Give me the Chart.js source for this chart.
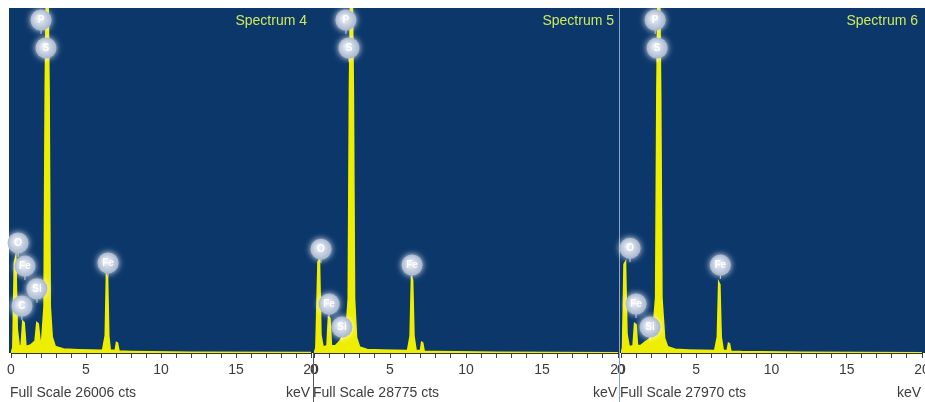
<!DOCTYPE html>
<html>
<head>
<meta charset="utf-8">
<script src="https://cdn.jsdelivr.net/npm/chart.js@4/dist/chart.umd.min.js"></script>
<style>
  html, body { margin: 0; padding: 0; background: #fff; overflow: hidden; }
  #wrap { position: relative; width: 925px; height: 402px; overflow: hidden; }
  canvas { position: absolute; left: 0; top: 0; }
</style>
</head>
<body>
<div id="wrap">
  <canvas id="spec4" width="960" height="402"></canvas>
  <canvas id="spec5" width="960" height="402"></canvas>
  <canvas id="spec6" width="960" height="402"></canvas>
</div>
<script>
// —— spectrum data (keV / counts) ——
const spectrumNames = ['Spectrum 4', 'Spectrum 5', 'Spectrum 6'];
const fullScale     = [26006, 28775, 27970];
const tickValues    = [0, 5, 10, 15, 20];

const keV4 = [0, 0.12, 0.22, 0.32, 0.42, 0.55, 0.68, 0.78, 0.88, 1.0, 1.3, 1.6, 1.72, 1.82, 1.94, 2.05, 2.2, 2.28, 2.34, 2.48, 2.54, 2.62, 2.75, 2.95, 3.5, 4.5, 6.1, 6.28, 6.36, 6.44, 6.52, 6.62, 6.95, 7.03, 7.1, 7.2, 8, 12, 20];
const cts4 = [0, 400, 6800, 7300, 1800, 500, 600, 2400, 2300, 500, 600, 900, 2300, 2200, 900, 1000, 3500, 20000, 26006, 26006, 20000, 3500, 1200, 500, 300, 250, 200, 1300, 5900, 5700, 1300, 200, 200, 800, 750, 150, 120, 60, 30];

const keV5 = [0, 0.12, 0.26, 0.36, 0.46, 0.6, 0.85, 0.95, 1.05, 1.15, 1.4, 1.7, 1.9, 2.1, 2.25, 2.33, 2.39, 2.53, 2.59, 2.67, 2.8, 3.0, 3.5, 4.5, 6.15, 6.32, 6.41, 6.49, 6.58, 6.72, 7.0, 7.08, 7.15, 7.25, 8, 12, 20];
const cts5 = [0, 400, 7600, 7800, 1500, 500, 600, 3000, 2900, 600, 600, 1000, 1500, 1800, 4500, 22000, 28775, 28775, 22000, 4500, 1300, 500, 300, 250, 200, 1400, 6300, 6100, 1400, 200, 200, 900, 850, 150, 120, 60, 30];

const keV6 = [0, 0.1, 0.2, 0.3, 0.4, 0.55, 0.8, 0.9, 1.0, 1.1, 1.3, 1.6, 1.85, 2.1, 2.3, 2.38, 2.44, 2.58, 2.64, 2.72, 2.9, 3.1, 3.6, 4.5, 6.22, 6.4, 6.49, 6.57, 6.66, 6.8, 7.05, 7.14, 7.21, 7.3, 8, 12, 20];
const cts6 = [0, 400, 7200, 7400, 1500, 500, 600, 2400, 2300, 600, 600, 900, 1100, 1500, 4500, 21000, 27970, 27970, 21000, 4500, 1200, 500, 300, 250, 200, 1300, 5750, 5550, 1300, 200, 200, 800, 750, 150, 120, 60, 30];

// element markers (name, keV, counts)
const markNames4 = ['P', 'S', 'O', 'Fe', 'Si', 'C', 'Fe'];
const markKeV4   = [2.0, 2.33, 0.47, 0.93, 1.73, 0.73, 6.47];
const markCts4   = [25100, 23000, 8300, 6550, 4840, 3540, 6790];

const markNames5 = ['P', 'S', 'O', 'Fe', 'Si', 'Fe'];
const markKeV5   = [2.1, 2.3, 0.46, 0.99, 1.84, 6.45];
const markCts5   = [27770, 25440, 8660, 4090, 2160, 7340];

const markNames6 = ['P', 'S', 'O', 'Fe', 'Si', 'Fe'];
const markKeV6   = [2.27, 2.4, 0.6, 1.0, 1.93, 6.6];
const markCts6   = [27000, 24730, 8500, 3970, 2100, 7130];

const panels = [
  { id: 'spec4', keV: keV4, cts: cts4, names: markNames4, mKeV: markKeV4, mCts: markCts4, left: 11,  right: 311 },
  { id: 'spec5', keV: keV5, cts: cts5, names: markNames5, mKeV: markKeV5, mCts: markCts5, left: 314, right: 618 },
  { id: 'spec6', keV: keV6, cts: cts6, names: markNames6, mKeV: markKeV6, mCts: markCts6, left: 621, right: 922 }
];

const FONT = "'Liberation Sans', Arial, sans-serif";
const CANVAS_W = 960;

// —— panel decoration: blue plot area, markers, captions ——
const edsPlugin = {
  id: 'eds',
  beforeDraw(chart, args, opts) {
    const { ctx, chartArea: a } = chart;
    ctx.save();
    ctx.fillStyle = '#0b376b';
    ctx.fillRect(a.left - 2, a.top, a.right - a.left + 5, a.bottom - a.top);
    ctx.restore();
  },
  afterDraw(chart, args, opts) {
    const i = opts.index;
    const p = panels[i];
    const { ctx, chartArea: a, scales } = chart;
    ctx.save();

    // separators between panels
    if (i === 1) {
      ctx.strokeStyle = '#555';
      ctx.lineWidth = 1;
      ctx.beginPath(); ctx.moveTo(313.5, a.bottom); ctx.lineTo(313.5, 402); ctx.stroke();
    }
    if (i === 2) {
      ctx.strokeStyle = '#8fa5c6';
      ctx.lineWidth = 1;
      ctx.beginPath(); ctx.moveTo(619.5, a.top); ctx.lineTo(619.5, 402); ctx.stroke();
    }

    // element markers
    p.names.forEach((name, k) => {
      const x = scales.x.getPixelForValue(p.mKeV[k]);
      const y = scales.y.getPixelForValue(p.mCts[k]);
      ctx.strokeStyle = 'rgba(225,232,245,0.8)';
      ctx.lineWidth = 1;
      ctx.beginPath(); ctx.moveTo(x, y + 9); ctx.lineTo(x, y + 14); ctx.stroke();
      ctx.save();
      ctx.shadowColor = 'rgba(255,255,255,0.9)';
      ctx.shadowBlur = 6;
      const g = ctx.createRadialGradient(x - 2, y - 2, 1, x, y, 11);
      g.addColorStop(0, '#eef2f8');
      g.addColorStop(1, '#a4b3cc');
      ctx.fillStyle = g;
      ctx.beginPath(); ctx.arc(x, y, 10.5, 0, Math.PI * 2); ctx.fill();
      ctx.restore();
      ctx.fillStyle = '#ffffff';
      ctx.font = 'bold 10px ' + FONT;
      ctx.textAlign = 'center';
      ctx.textBaseline = 'middle';
      ctx.fillText(name, x, y + 0.5);
    });

    // spectrum title
    ctx.fillStyle = '#cfe85c';
    ctx.font = '14px ' + FONT;
    ctx.textAlign = 'right';
    ctx.textBaseline = 'middle';
    ctx.fillText(spectrumNames[i], a.right - 4, 21);

    // bottom captions
    ctx.fillStyle = '#3c3c3c';
    ctx.textAlign = 'left';
    ctx.fillText('Full Scale ' + fullScale[i] + ' cts', a.left - 1, 393);
    ctx.textAlign = 'right';
    ctx.fillText('keV', a.right - 1, 393);
    ctx.restore();
  }
};

panels.forEach((p, i) => {
  const ctx = document.getElementById(p.id).getContext('2d');
  new Chart(ctx, {
    type: 'line',
    data: {
      datasets: [{
        data: p.keV.map((x, j) => ({ x: x, y: p.cts[j] })),
        borderColor: '#eeee00',
        backgroundColor: '#eeee00',
        borderWidth: 1.5,
        pointRadius: 0,
        tension: 0,
        fill: 'origin'
      }]
    },
    options: {
      responsive: false,
      animation: false,
      events: [],
      layout: { padding: { left: p.left, right: CANVAS_W - p.right, top: 8, bottom: 0 } },
      plugins: {
        legend: { display: false },
        tooltip: { enabled: false },
        eds: { index: i }
      },
      scales: {
        x: {
          type: 'linear',
          min: 0,
          max: 20,
          afterFit: (s) => { s.height = 49; },
          ticks: {
            stepSize: 1,
            autoSkip: false,
            maxRotation: 0,
            padding: 4,
            color: '#3c3c3c',
            font: { family: FONT, size: 14 },
            callback: (v) => tickValues.includes(v) ? String(v) : ''
          },
          grid: { drawOnChartArea: false, drawTicks: true, tickLength: 5, color: '#444' },
          border: { display: true, color: '#333' }
        },
        y: { display: false, min: 0, max: fullScale[i] }
      }
    },
    plugins: [edsPlugin]
  });
});
</script>
</body>
</html>
